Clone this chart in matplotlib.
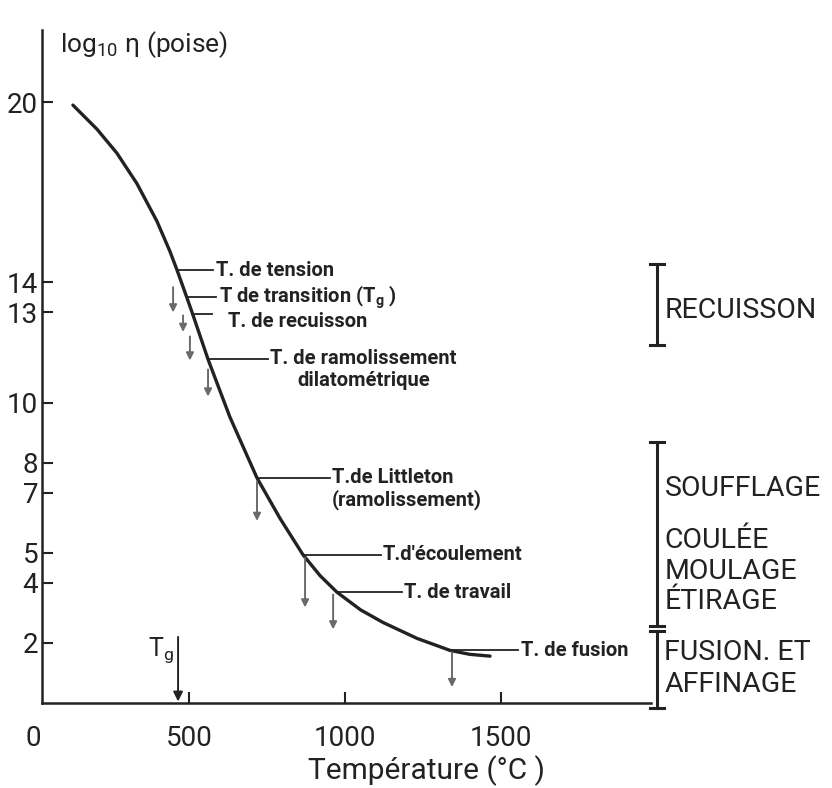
import matplotlib
matplotlib.use("Agg")
import matplotlib.pyplot as plt

plt.rcParams["font.family"] = ["Roboto", "DejaVu Sans"]
plt.rcParams["mathtext.fontset"] = "custom"
plt.rcParams["mathtext.rm"] = "Roboto"

# viscosity curve: temperature (°C) vs log10(eta) (poise)
temp = [128, 205, 269, 333, 397, 439, 462, 494, 510, 561, 631, 718, 792,
        865, 920, 974, 1050, 1122, 1231, 1337, 1400, 1465]
log_eta = [19.9, 19.1, 18.3, 17.29, 16.04, 15.03, 14.4, 13.47, 13.0, 11.44,
           9.52, 7.49, 6.14, 4.94, 4.24, 3.69, 3.1, 2.68, 2.15, 1.75, 1.62,
           1.56]

# characteristic points: where the leader leaves the curve, label text
point_names = ["T. de tension", "T de transition (T$_{\\mathregular{g}}$ )",
               "T. de recuisson", "T. de ramolissement\ndilatométrique",
               "T.de Littleton\n(ramolissement)", "T.d'écoulement",
               "T. de travail", "T. de fusion"]
point_T = [462, 494, 510, 561, 718, 865, 974, 1337]
point_eta = [14.4, 13.5, 12.95, 11.44, 7.49, 4.94, 3.69, 1.75]
leader_end = [577, 587, 574, 753, 952, 1115, 1183, 1554]
text_T = [587, 596, 625, 760, 958, 1122, 1189, 1564]
text_eta = [14.4, 13.5, 12.7, 11.44, 7.49, 4.94, 3.69, 1.75]

# small downward arrows under each point
arrow_T = [449, 481, 503, 561, 718, 872, 962, 1343]
arrow_top = [13.84, 12.9, 12.2, 11.1, 7.38, 4.83, 3.61, 1.69]
arrow_bottom = [13.0, 12.35, 11.4, 10.2, 6.06, 3.18, 2.45, 0.53]

tg_T = 465

# working ranges on the right
ranges = [(14.6, 11.9), (8.7, 2.55), (2.4, -0.15)]
range_labels = [["RECUISSON", 13.05],
                ["SOUFFLAGE", 7.15], ["COULÉE", 5.4], ["MOULAGE", 4.37],
                ["ÉTIRAGE", 3.38],
                ["FUSION. ET", 1.69], ["AFFINAGE", 0.6]]

ink = "#222222"
grey = "#6a6a6a"

fig = plt.figure(figsize=(8.32, 7.88), dpi=100)
ax = fig.add_axes([33 / 832, 85 / 788, 799 / 832, 673 / 788])

ax.plot(temp, log_eta, color=ink, lw=2.4, solid_capstyle="round",
        solid_joinstyle="round")

for i in range(len(point_names)):
    ax.plot([point_T[i], leader_end[i]], [point_eta[i], point_eta[i]],
            color=ink, lw=1.3)
    if "\n" in point_names[i]:
        ax.text(text_T[i], text_eta[i] + 0.33, point_names[i], fontsize=14.5,
                fontweight="bold", color=ink, ha="left", va="top",
                linespacing=1.15,
                multialignment="center" if i == 3 else "left")
    else:
        ax.text(text_T[i], text_eta[i], point_names[i], fontsize=14.5,
                fontweight="bold", color=ink, ha="left", va="center")
    ax.annotate("", xy=(arrow_T[i], arrow_bottom[i]),
                xytext=(arrow_T[i], arrow_top[i]),
                arrowprops=dict(arrowstyle="-|>", color=grey, lw=1.4,
                                mutation_scale=11, shrinkA=0, shrinkB=0))

# glass transition on the axis
ax.annotate("", xy=(tg_T, 0.05), xytext=(tg_T, 2.2),
            arrowprops=dict(arrowstyle="-|>", color=ink, lw=1.4,
                            mutation_scale=14, shrinkA=0, shrinkB=0))
ax.text(tg_T - 15, 1.75, "T$_{\\mathregular{g}}$", fontsize=18, color=ink,
        ha="right", va="center")

# range brackets
bx = 2000
for top, bot in ranges:
    ax.plot([bx, bx], [bot, top], color=ink, lw=2.2, clip_on=False)
    for yy in (top, bot):
        ax.plot([bx - 22, bx + 22], [yy, yy], color=ink, lw=2.2,
                clip_on=False)
for name, yy in range_labels:
    ax.text(bx + 24, yy, name, fontsize=20.5, color=ink, ha="left",
            va="center")

ax.set_xlim(0, 2561)
ax.set_ylim(0, 22.4)
ax.spines["top"].set_visible(False)
ax.spines["right"].set_visible(False)
ax.spines["left"].set_position(("data", 30))
ax.spines["bottom"].set_bounds(30, 1980)
for s in ("left", "bottom"):
    ax.spines[s].set_linewidth(1.8)
    ax.spines[s].set_color(ink)

ax.set_xticks([0, 500, 1000, 1500])
ax.set_yticks([2, 4, 5, 7, 8, 10, 13, 14, 20])
ax.tick_params(direction="in", length=8, width=1.5, colors=ink,
               labelsize=20, pad=3)
ax.tick_params(axis="x", pad=16)
ax.xaxis.get_major_ticks()[0].tick1line.set_visible(False)

ax.set_xlabel("Température (°C )", fontsize=21.5, color=ink)
ax.xaxis.set_label_coords(0.492, -0.078)
ax.set_ylabel("log$_{\\mathregular{10}}$ η (poise)", fontsize=19, color=ink,
              rotation=0, ha="left", va="center")
ax.yaxis.set_label_coords(0.034, 0.978)

fig.savefig("out.png", dpi=100)
